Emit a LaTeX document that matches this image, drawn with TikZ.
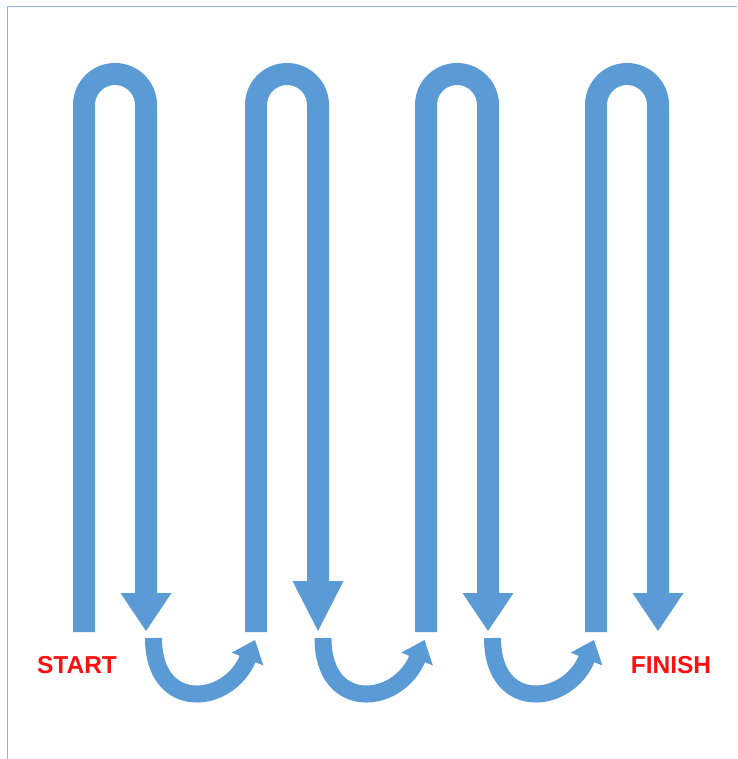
\documentclass[tikz,border=0pt]{standalone}
\usepackage{fontspec}
\setmainfont{Liberation Sans}
\definecolor{ublue}{HTML}{5B9BD5}
\definecolor{labred}{HTML}{FF1010}
\definecolor{framecol}{HTML}{8DB3E2}
\begin{document}
\begin{tikzpicture}[x=1pt,y=-1pt,
  ushaft/.style={draw=ublue,line width=22pt},
  cshaft/.style={draw=ublue,line width=17pt},
  headfill/.style={fill=ublue},
  lbl/.style={text=labred,font=\bfseries\fontsize{24.5}{24.5}\selectfont,inner sep=0pt}]
\useasboundingbox (0,0) rectangle (737,759);
\draw[framecol,line width=1.6pt] (7.5,759) -- (7.5,6.5) -- (737,6.5);
% U-turn arrows
\foreach \L/\hb in {73/593,245/581,415/593,585/593}{
  \draw[ushaft] (\L+11,632) -- (\L+11,105) arc[start angle=180,end angle=360,radius=31] -- (\L+73,\hb+1);
  \fill[headfill] (\L+73-25.5,\hb) -- (\L+73+25.5,\hb) -- (\L+73,631) -- cycle;
}
% curved connecting arrows
\foreach \x in {153.5,323,492.5}{
  \draw[cshaft] (\x,638) .. controls (\x,713) and (\x+75.3,705.4) .. (\x+94.5,658);
  \fill[headfill] (\x+78.2,652.6) -- (\x+109.8,665.4) -- (\x+101.5,640) -- cycle;
}
\node[lbl] (start) at (77,665) {START};
\node[lbl] (finish) at (671,665) {FINISH};
\end{tikzpicture}
\end{document}
